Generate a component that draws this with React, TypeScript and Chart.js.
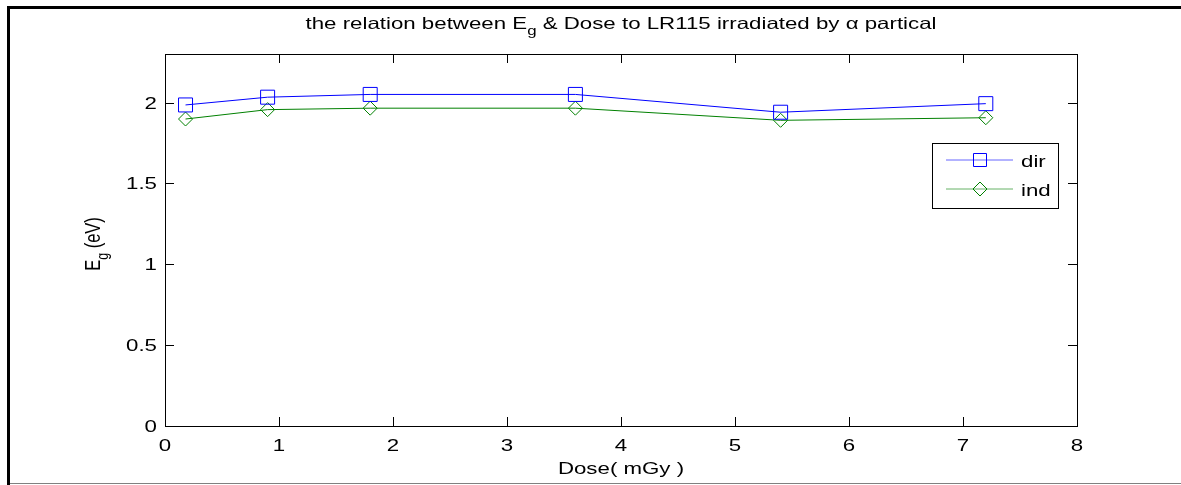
import React, { useEffect, useRef } from "react";
import { Chart, registerables } from "chart.js";

Chart.register(...registerables);

const doseX = [0.18, 0.9, 1.8, 3.6, 5.4, 7.2];
const egDir = [1.985, 2.033, 2.05, 2.05, 1.94, 1.993];
const egInd = [1.898, 1.956, 1.965, 1.965, 1.89, 1.906];
const seriesNames = ["dir", "ind"];
const xTickValues = [0, 1, 2, 3, 4, 5, 6, 7, 8];
const yTickValues = [0, 0.5, 1, 1.5, 2];

const FONT = "Liberation Sans, Arial, sans-serif";
const SX = 1.35;

type Seg = { t: string; sub?: boolean };

function segWidth(ctx: CanvasRenderingContext2D, segs: Seg[], size: number, subSize: number) {
  let w = 0;
  for (const s of segs) {
    ctx.font = `${s.sub ? subSize : size}px ${FONT}`;
    w += ctx.measureText(s.t).width;
  }
  return w;
}

function drawSegs(ctx: CanvasRenderingContext2D, segs: Seg[], size: number, subSize: number, subOff: number) {
  let x = 0;
  ctx.textAlign = "left";
  ctx.textBaseline = "alphabetic";
  for (const s of segs) {
    ctx.font = `${s.sub ? subSize : size}px ${FONT}`;
    ctx.fillText(s.t, x, s.sub ? subOff : 0);
    x += ctx.measureText(s.t).width;
  }
}

function drawText(ctx: CanvasRenderingContext2D, text: string, x: number, y: number, align: "left" | "center" | "right", size: number, baseline: CanvasTextBaseline = "alphabetic") {
  ctx.save();
  ctx.font = `${size}px ${FONT}`;
  const w = ctx.measureText(text).width * SX;
  const left = align === "left" ? x : align === "center" ? x - w / 2 : x - w;
  ctx.translate(left, y);
  ctx.scale(SX, 1);
  ctx.textAlign = "left";
  ctx.textBaseline = baseline;
  ctx.fillStyle = "#000";
  ctx.fillText(text, 0, 0);
  ctx.restore();
}

const decorPlugin = {
  id: "matlabDecor",
  afterDraw(chart: any) {
    const ctx: CanvasRenderingContext2D = chart.ctx;
    const { left, right, top, bottom } = chart.chartArea;
    const xs = chart.scales.x;
    const ys = chart.scales.y;
    ctx.save();
    // outer figure border
    ctx.fillStyle = "#000";
    ctx.fillRect(7, 6, chart.width - 7, 3);
    ctx.fillRect(7, 6, 3, chart.height - 6);
    ctx.fillStyle = "#808080";
    ctx.fillRect(10, 483, chart.width - 10, 1);

    // axes box
    ctx.strokeStyle = "#000";
    ctx.lineWidth = 1;
    ctx.strokeRect(Math.round(left) + 0.5, Math.round(top) + 0.5, Math.round(right - left), Math.round(bottom - top));

    // ticks
    const tl = 9;
    ctx.beginPath();
    for (const v of xTickValues) {
      const px = Math.round(xs.getPixelForValue(v)) + 0.5;
      ctx.moveTo(px, bottom);
      ctx.lineTo(px, bottom - tl);
      ctx.moveTo(px, top);
      ctx.lineTo(px, top + tl);
    }
    for (const v of yTickValues) {
      const py = Math.round(ys.getPixelForValue(v)) + 0.5;
      ctx.moveTo(left, py);
      ctx.lineTo(left + tl, py);
      ctx.moveTo(right, py);
      ctx.lineTo(right - tl, py);
    }
    ctx.stroke();

    // tick labels
    for (const v of xTickValues) {
      drawText(ctx, String(v), xs.getPixelForValue(v), 451, "center", 16.5);
    }
    for (const v of yTickValues) {
      drawText(ctx, String(v), left - 8, ys.getPixelForValue(v) + 6, "right", 16.5);
    }

    // x label
    drawText(ctx, "Dose( mGy )", (left + right) / 2, 474, "center", 16.5);

    // title
    const titleSegs: Seg[] = [
      { t: "the relation between E" },
      { t: "g", sub: true },
      { t: " & Dose to LR115 irradiated by " },
      { t: "\u03b1" },
      { t: " partical" },
    ];
    ctx.fillStyle = "#000";
    const tw = segWidth(ctx, titleSegs, 16.5, 12.5) * SX;
    ctx.save();
    ctx.translate((left + right) / 2 - tw / 2, 29);
    ctx.scale(SX, 1);
    drawSegs(ctx, titleSegs, 16.5, 12.5, 6);
    ctx.restore();

    // y label (rotated)
    const ySegs: Seg[] = [{ t: "E" }, { t: "g", sub: true }, { t: " (eV)" }];
    const yw = segWidth(ctx, ySegs, 16.5, 12.5);
    ctx.save();
    ctx.translate(100, (top + bottom) / 2 + 4 + yw / 2);
    ctx.scale(SX, 1);
    ctx.rotate(-Math.PI / 2);
    drawSegs(ctx, ySegs, 16.5, 12.5, 6);
    ctx.restore();

    // legend
    const lx = 932, ly = 143, lw = 126, lh = 65;
    ctx.fillStyle = "#fff";
    ctx.fillRect(lx, ly, lw, lh);
    ctx.strokeStyle = "#000";
    ctx.lineWidth = 1;
    ctx.strokeRect(lx + 0.5, ly + 0.5, lw, lh);
    const colors = ["#0000ff", "#008000"];
    const rows = [160, 189];
    rows.forEach((ry, i) => {
      ctx.strokeStyle = colors[i];
      ctx.globalAlpha = 0.6;
      ctx.beginPath();
      ctx.moveTo(946, ry);
      ctx.lineTo(1013, ry);
      ctx.stroke();
      ctx.globalAlpha = 1;
      ctx.beginPath();
      if (i === 0) {
        ctx.rect(973.5, ry - 6.5, 13, 13);
      } else {
        ctx.moveTo(980, ry - 7);
        ctx.lineTo(987, ry);
        ctx.lineTo(980, ry + 7);
        ctx.lineTo(973, ry);
        ctx.closePath();
      }
      ctx.stroke();
      drawText(ctx, seriesNames[i], 1021, ry + 7, "left", 16.5);
    });
    ctx.restore();
  },
};

export default function App() {
  const ref = useRef<HTMLCanvasElement | null>(null);
  useEffect(() => {
    if (!ref.current) return;
    const chart = new Chart(ref.current, {
      type: "line",
      data: {
        datasets: [
          {
            label: seriesNames[0],
            data: doseX.map((x, i) => ({ x, y: egDir[i] })),
            borderColor: "#0000ff",
            borderWidth: 1,
            pointStyle: "rect",
            pointRadius: 9.9,
            pointBorderWidth: 1,
            pointBorderColor: "#0000ff",
            pointBackgroundColor: "rgba(0,0,0,0)",
            tension: 0,
          },
          {
            label: seriesNames[1],
            data: doseX.map((x, i) => ({ x, y: egInd[i] })),
            borderColor: "#008000",
            borderWidth: 1,
            pointStyle: "rectRot",
            pointRadius: 7,
            pointBorderWidth: 1,
            pointBorderColor: "#008000",
            pointBackgroundColor: "rgba(0,0,0,0)",
            tension: 0,
          },
        ],
      },
      options: {
        animation: false,
        responsive: false,
        devicePixelRatio: 1,
        layout: { padding: { left: 165, top: 54, right: 104, bottom: 59 } },
        plugins: { legend: { display: false }, title: { display: false }, tooltip: { enabled: false } },
        scales: {
          x: { type: "linear", min: 0, max: 8, display: false },
          y: { type: "linear", min: 0, max: 2.3, display: false },
        },
      },
      plugins: [decorPlugin],
    } as any);
    return () => chart.destroy();
  }, []);
  return (
    <div style={{ position: "fixed", left: 0, top: 0, width: 1181, height: 485, background: "#fff" }}>
      <canvas ref={ref} width={1181} height={485} style={{ display: "block" }} />
    </div>
  );
}
